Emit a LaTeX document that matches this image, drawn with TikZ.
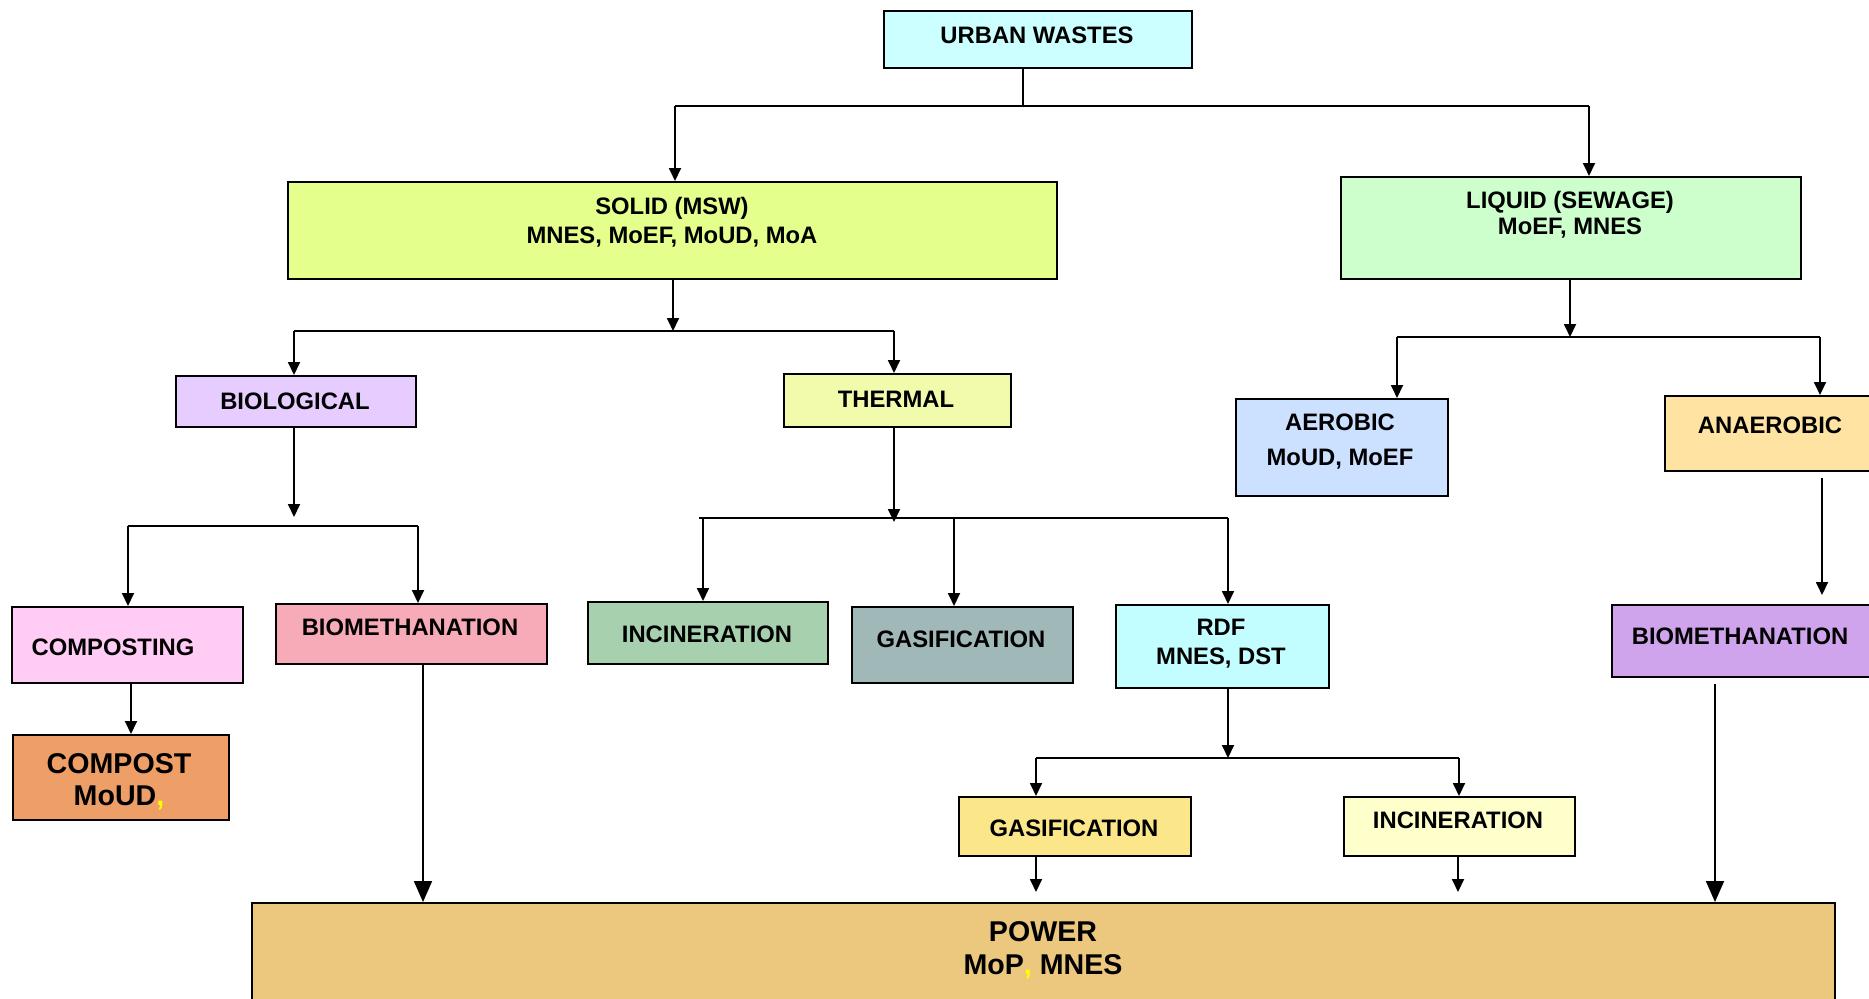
\documentclass[tikz,border=0pt]{standalone}
\usepackage{fontspec}
\setmainfont{Liberation Sans}
\usetikzlibrary{arrows.meta}
\definecolor{cUrban}{HTML}{CCFFFF}
\definecolor{cSolid}{HTML}{E4FF8C}
\definecolor{cLiquid}{HTML}{CCFFCC}
\definecolor{cBio}{HTML}{E6CCFF}
\definecolor{cThermal}{HTML}{F2FAAC}
\definecolor{cAerobic}{HTML}{CCE0FF}
\definecolor{cAnaer}{HTML}{FFE3A3}
\definecolor{cCompo}{HTML}{FFCCF5}
\definecolor{cCompost}{HTML}{EE9E67}
\definecolor{cBiomA}{HTML}{F7AAB8}
\definecolor{cIncin}{HTML}{A6D0AE}
\definecolor{cGasif}{HTML}{A0B8B8}
\definecolor{cRdf}{HTML}{C2FDFF}
\definecolor{cGasifB}{HTML}{FBE68A}
\definecolor{cIncinB}{HTML}{FFFFCC}
\definecolor{cBiomB}{HTML}{D0A4EC}
\definecolor{cPower}{HTML}{ECC77E}
\definecolor{cComma}{HTML}{FFFF00}
\tikzset{
  box/.style={draw=black, line width=1pt, inner sep=0pt, anchor=north west},
  txt/.style={font=\bfseries\fontsize{11.9pt}{14.5pt}\selectfont, align=center, anchor=base, inner sep=0pt},
  bigtxt/.style={font=\bfseries\fontsize{14.3pt}{16pt}\selectfont, align=center, anchor=base, inner sep=0pt},
  ln/.style={line width=0.9pt, draw=black},
  arr/.style={ln, -{Triangle[width=6pt,length=6.5pt]}},
  bigarr/.style={ln, -{Triangle[width=9pt,length=10.5pt]}}
}
\begin{document}
\begin{tikzpicture}[x=0.5pt,y=-0.5pt]
\clip (0,0) rectangle (1869,998);
\fill[white] (0,0) rectangle (1869,998);

% boxes (px: left, top; size w/2 x h/2 pt)
\node[box, fill=cUrban, minimum width=154pt, minimum height=28.5pt] (urban) at (883,10) {};
\node[box, fill=cSolid, minimum width=384.5pt, minimum height=48.5pt] (solid) at (287,181) {};
\node[box, fill=cLiquid, minimum width=230pt, minimum height=51pt] (liquid) at (1340,176) {};
\node[box, fill=cBio, minimum width=120pt, minimum height=25.5pt] (bio) at (175,375) {};
\node[box, fill=cThermal, minimum width=113.5pt, minimum height=26.5pt] (thermal) at (783,373) {};
\node[box, fill=cAerobic, minimum width=106pt, minimum height=48.5pt] (aerobic) at (1235,398) {};
\node[box, fill=cAnaer, minimum width=115pt, minimum height=37.5pt] (anaer) at (1664,395) {};
\node[box, fill=cCompo, minimum width=115.5pt, minimum height=38pt] (compo) at (11,606) {};
\node[box, fill=cCompost, minimum width=108pt, minimum height=42.5pt] (compost) at (12,734) {};
\node[box, fill=cBiomA, minimum width=135.5pt, minimum height=30pt] (biomA) at (275,603) {};
\node[box, fill=cIncin, minimum width=120pt, minimum height=31pt] (incin) at (587,601) {};
\node[box, fill=cGasif, minimum width=110.5pt, minimum height=38pt] (gasif) at (851,606) {};
\node[box, fill=cRdf, minimum width=106.5pt, minimum height=41.5pt] (rdf) at (1115,604) {};
\node[box, fill=cGasifB, minimum width=116pt, minimum height=29.5pt] (gasifB) at (958,796) {};
\node[box, fill=cIncinB, minimum width=115.5pt, minimum height=29.5pt] (incinB) at (1343,796) {};
\node[box, fill=cBiomB, minimum width=140pt, minimum height=36pt] (biomB) at (1611,604) {};
\node[box, fill=cPower, minimum width=791.5pt, minimum height=60pt] (power) at (251,902) {};

% texts (anchor = baseline of the last line)
\node[txt] (urban-t) at (1037,43.5) {URBAN WASTES};
\node[txt] (solid-t) at (672,243.5) {SOLID (MSW)\\MNES, MoEF, MoUD, MoA};
\node[txt, font=\bfseries\fontsize{11.9pt}{13pt}\selectfont] (liquid-t) at (1570,234.5) {LIQUID (SEWAGE)\\MoEF, MNES};
\node[txt] (bio-t) at (295,409.5) {BIOLOGICAL};
\node[txt] (thermal-t) at (896,407.5) {THERMAL};
\node[txt, font=\bfseries\fontsize{11.9pt}{17.5pt}\selectfont] (aerobic-t) at (1340,465.5) {AEROBIC\\MoUD, MoEF};
\node[txt] (anaer-t) at (1770,433.5) {ANAEROBIC};
\node[txt] (compo-t) at (113,655.5) {COMPOSTING};
\node[bigtxt] (compost-t) at (119,805.3) {COMPOST\\MoUD\textcolor{cComma}{,}};
\node[txt] (biomA-t) at (410,635.5) {BIOMETHANATION};
\node[txt] (incin-t) at (707,642.5) {INCINERATION};
\node[txt] (gasif-t) at (961,647.5) {GASIFICATION};
\node[txt] (rdf-t) at (1221,664.5) {RDF\\MNES, DST};
\node[txt] (gasifB-t) at (1074,836.5) {GASIFICATION};
\node[txt] (incinB-t) at (1458,828.5) {INCINERATION};
\node[txt] (biomB-t) at (1740,644.5) {BIOMETHANATION};
\node[bigtxt, font=\bfseries\fontsize{14.3pt}{16.5pt}\selectfont] (power-t) at (1043,974.3) {POWER\\MoP\textcolor{cComma}{,} MNES};

% junction coordinates
\coordinate (j0) at (1023,106);
\coordinate (j0l) at (675,106);
\coordinate (j0r) at (1589,106);
\coordinate (j1) at (673,331);
\coordinate (j1l) at (294,331);
\coordinate (j1r) at (894,331);
\coordinate (j2) at (294,517);
\coordinate (j2l) at (128,526);
\coordinate (j2r) at (418,526);
\coordinate (xc) at (131,0);
\coordinate (xb) at (423,0);
\coordinate (j3) at (894,522);
\coordinate (j3l) at (699,518);
\coordinate (j3r) at (1228,518);
\coordinate (xi) at (703,0);
\coordinate (xg) at (954,0);
\coordinate (j4) at (1228,758);
\coordinate (j4l) at (1036,758);
\coordinate (j4r) at (1459,758);
\coordinate (t4l) at (1036,892);
\coordinate (t4r) at (1458,892);
\coordinate (j5) at (1570,337);
\coordinate (j5l) at (1397,337);
\coordinate (j5r) at (1820,337);
\coordinate (xa) at (1822,0);
\coordinate (xp) at (1715,0);

% connectors
\draw[ln] (urban.south -| j0) -- (j0);
\draw[ln] (j0l) -- (j0r);
\draw[arr] (j0l) -- (j0l |- solid.north);
\draw[arr] (j0r) -- (j0r |- liquid.north);

\draw[arr] (solid.south -| j1) -- (j1);
\draw[ln] (j1l) -- (j1r);
\draw[arr] (j1l) -- (j1l |- bio.north);
\draw[arr] (j1r) -- (j1r |- thermal.north);

\draw[arr] (bio.south -| j2) -- (j2);
\draw[ln] (j2l) -- (j2r);
\draw[arr] (j2l) -- (j2l |- compo.north);
\draw[arr] (j2r) -- (j2r |- biomA.north);
\draw[arr] (compo.south -| xc) -- (compost.north -| xc);
\draw[bigarr] (biomA.south -| xb) -- (power.north -| xb);

\draw[arr] (thermal.south -| j3) -- (j3);
\draw[ln] (j3l) -- (j3r);
\draw[arr] (j3r -| xi) -- (incin.north -| xi);
\draw[arr] (j3r -| xg) -- (gasif.north -| xg);
\draw[arr] (j3r) -- (rdf.north -| j3r);

\draw[arr] (rdf.south -| j4) -- (j4);
\draw[ln] (j4l) -- (j4r);
\draw[arr] (j4l) -- (gasifB.north -| j4l);
\draw[arr] (j4r) -- (incinB.north -| j4r);
\draw[arr] (gasifB.south -| t4l) -- (t4l);
\draw[arr] (incinB.south -| t4r) -- (t4r);

\draw[arr] (liquid.south -| j5) -- (j5);
\draw[ln] (j5l) -- (j5r);
\draw[arr] (j5l) -- (aerobic.north -| j5l);
\draw[arr] (j5r) -- (anaer.north -| j5r);
\draw[arr, shorten <=3pt, shorten >=4.5pt] (anaer.south -| xa) -- (biomB.north -| xa);
\draw[bigarr, shorten <=3pt] (biomB.south -| xp) -- (power.north -| xp);
\end{tikzpicture}
\end{document}
